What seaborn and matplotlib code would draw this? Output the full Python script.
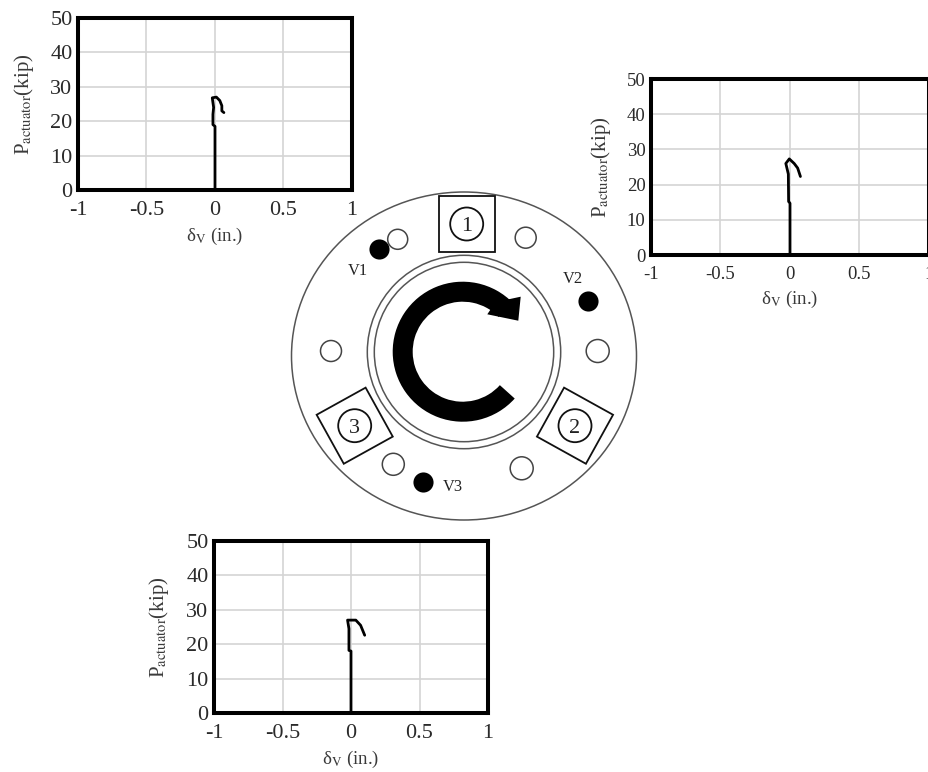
import seaborn as sns
import matplotlib
matplotlib.use('Agg')
import matplotlib.pyplot as plt
from matplotlib.patches import Circle, Ellipse, Wedge, Polygon, Rectangle
from matplotlib.transforms import Affine2D
import pandas as pd

# load vs displacement
v1_disp = [0, 0, -0.015, -0.015, -0.01, -0.02, 0.01, 0.035, 0.05, 0.05, 0.065]
v1_load = [0, 18.5, 19, 22, 24, 26.8, 27, 26, 24.5, 23, 22.5]
v2_disp = [0, 0, -0.01, -0.012, -0.03, -0.005, 0.03, 0.055, 0.075]
v2_load = [0, 14.7, 15.2, 23, 26, 27.3, 26, 24.7, 22.3]
v3_disp = [0, 0, -0.015, -0.015, -0.025, 0.035, 0.07, 0.1]
v3_load = [0, 18, 18.2, 24.5, 27, 27, 25.5, 22.6]

x_ticks = [-1, -0.5, 0, 0.5, 1]
x_labels = ['-1', '-0.5', '0', '0.5', '1']
y_ticks = [0, 10, 20, 30, 40, 50]

# the flange sketch, in pixels of the picture
ring_center = (464, 352)
ring_radii = [96.7, 89.7]
hole_x = [397.7, 525.7, 331, 597.7, 393.3, 521.7]
hole_y = [239.3, 237.7, 351, 351, 464.3, 468.3]
hole_r = [10, 10.5, 10.5, 11.5, 11, 11.5]
gauge_names = ['V1', 'V2', 'V3']
gauge_x = [378.7, 587.7, 422.7]
gauge_y = [249.3, 300.7, 481.7]
gauge_label_x = [358.3, 573.3, 452.7]
gauge_label_y = [270.7, 279.3, 487.3]
jack_names = ['1', '2', '3']
jack_x = [466.7, 575, 354.7]
jack_y = [224, 425.7, 425.7]
jack_angle = [0, 29, -29]

sns.set_theme(style='whitegrid')
plt.rcParams['font.family'] = ['Liberation Serif', 'DejaVu Serif']
plt.rcParams['mathtext.fontset'] = 'stix'
W, H = 929, 772
fig = plt.figure(figsize=(W / 100, H / 100), dpi=100, facecolor='white')


def load_plot(box, disp, load, tick_size, ypad, xpad):
    l, t, r, b = box
    ax = fig.add_axes([l / W, 1 - b / H, (r - l) / W, (b - t) / H])
    df = pd.DataFrame({'disp': disp, 'load': load})
    sns.lineplot(data=df, x='disp', y='load', sort=False, estimator=None,
                 color='black', linewidth=2, ax=ax)
    ax.set_xlim(-1, 1)
    ax.set_ylim(0, 50)
    ax.set_xticks(x_ticks)
    ax.set_xticklabels(x_labels)
    ax.set_yticks(y_ticks)
    ax.grid(True, color='#d4d4d4', linewidth=1.2)
    ax.tick_params(axis='x', length=0, labelsize=tick_size, labelcolor='#2a2a2a', pad=8)
    ax.tick_params(axis='y', length=0, labelsize=tick_size, labelcolor='#2a2a2a', pad=4)
    for s in ax.spines.values():
        s.set_visible(True)
        s.set_color('black')
        s.set_linewidth(2.9)
    ax.set_xlabel(r'δ$_{\mathrm{V}}$ (in.)', fontsize=13.5, color='#3a3a3a', labelpad=xpad)
    ax.set_ylabel(r'P$_{\mathrm{actuator}}$(kip)', fontsize=15, color='#3a3a3a', labelpad=ypad)
    return ax


load_plot((78, 18, 352, 190), v1_disp, v1_load, 16, 10, 4)
load_plot((651, 79, 929, 255), v2_disp, v2_load, 13.5, 10, 4)
load_plot((214, 541, 488, 713), v3_disp, v3_load, 16, 11, 4)

# sketch goes on a see-through axes in picture pixels
sk = fig.add_axes([0, 0, 1, 1], facecolor='none')
sk.set_xlim(0, W)
sk.set_ylim(H, 0)
sk.axis('off')
sk.add_patch(Ellipse((464, 356), 345, 328, fill=False, edgecolor='#555555', linewidth=1.1))
for rad in ring_radii:
    sk.add_patch(Circle(ring_center, rad, fill=False, edgecolor='#555555', linewidth=1.1))
for x, y, r in zip(hole_x, hole_y, hole_r):
    sk.add_patch(Circle((x, y), r, facecolor='white', edgecolor='#444444', linewidth=1.1))
sns.scatterplot(x=gauge_x, y=gauge_y, color='black', s=210, linewidth=0, ax=sk)
sk.set_xlim(0, W)
sk.set_ylim(H, 0)
for name, x, y in zip(gauge_names, gauge_label_x, gauge_label_y):
    sk.text(x, y, name, fontsize=11.8, color='#222222', ha='center', va='center')
for name, x, y, ang in zip(jack_names, jack_x, jack_y, jack_angle):
    tr = Affine2D().rotate_deg_around(x, y, ang) + sk.transData
    sk.add_patch(Rectangle((x - 28, y - 28), 56, 56, facecolor='white',
                           edgecolor='#111111', linewidth=1.3, transform=tr))
    sk.add_patch(Circle((x, y), 16.5, facecolor='white', edgecolor='#111111', linewidth=1.3))
    sk.text(x, y, name, fontsize=16, color='#222222', ha='center', va='center_baseline')

# rotation arrow
sk.add_patch(Wedge((462.7, 351.7), 70, 42, 316, width=20, facecolor='black', edgecolor='none'))
sk.add_patch(Polygon([(520.7, 296.7), (518.3, 320.7), (487.3, 314.3), (497, 300), (510, 299)],
                     facecolor='black', edgecolor='none'))

fig.savefig('out.png', dpi=100)
